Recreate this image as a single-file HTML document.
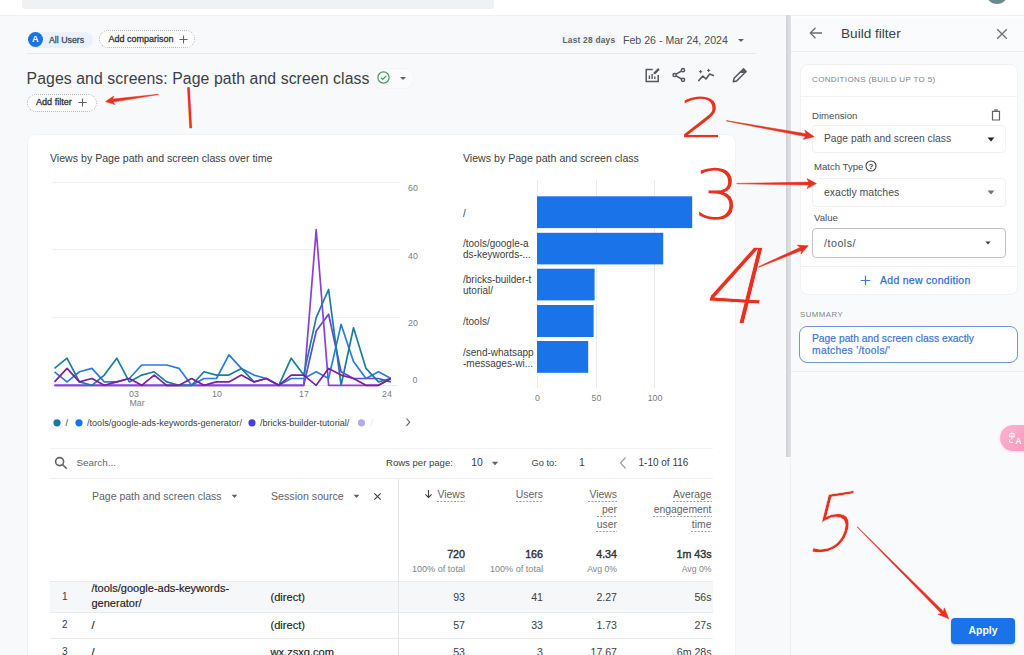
<!DOCTYPE html>
<html lang="en">
<head>
<meta charset="utf-8">
<title>Pages and screens - Build filter</title>
<style>
*{box-sizing:border-box;margin:0;padding:0}
html,body{width:1024px;height:655px;overflow:hidden;background:#f8f9fb}
body{font-family:"Liberation Sans",Arial,sans-serif;color:#3c4043;position:relative}
.abs{position:absolute}
.t{position:absolute;white-space:nowrap;line-height:1}
#root{position:absolute;left:0;top:0;width:1024px;height:655px;overflow:hidden;background:#f8f9fb}
/* top strip */
#topstrip{left:0;top:0;width:1024px;height:15.6px;background:#fff;border-bottom:1px solid #f0f2f4}
#searchbar{left:22px;top:-4px;width:472px;height:13px;background:#f0f1f2;border-radius:3px}
#avatar{left:986px;top:-18.4px;width:22px;height:22px;border-radius:50%;background:#6b898f}
/* chips */
#chipA{left:27.5px;top:31.6px;width:65px;height:16px;border-radius:8px;background:#ebf0fb}
#chipAcirc{left:27.8px;top:32.1px;width:15px;height:15px;border-radius:50%;background:#1a73e8;color:#fff;font-size:9.3px;font-weight:bold;text-align:center;line-height:15.4px}
#chipCmp{left:99.3px;top:30.3px;width:95.3px;height:17.8px;border-radius:9px;border:1px dotted #b4b8be;background:#fff}
#hr1{left:27px;top:53px;width:729px;height:1px;background:#e6e8eb}
#chipFilter{left:27.3px;top:94px;width:69.8px;height:17.6px;border-radius:9px;border:1px dotted #b4b8be;background:#fff}
/* card */
#card{left:27px;top:133.5px;width:709px;height:560px;background:#fff;border-radius:8px;border:1px solid #f1f3f5}
/* table */
.hline{position:absolute;height:1px;background:#e9ebed}
.num{position:absolute;white-space:nowrap;line-height:1;text-align:right}
/* right panel */
#scrollstrip{left:786px;top:15.3px;width:5px;height:442.2px;background:linear-gradient(to right,#cdcfd3,#d9dbde 45%,#dddfe2)}
#scrolltrack{left:790px;top:458px;width:1px;height:200px;background:#eceef0}
#panel{left:791px;top:16px;width:233px;height:639px;background:#f9fafc}
#panelhead{left:791px;top:15.5px;width:233px;height:36.5px;background:linear-gradient(#fff,#fafbfc 3px,#fafbfc);border-bottom:1px solid #eaecef}
#condcard{left:800px;top:64px;width:218px;height:230.5px;background:#fff;border-radius:8px;border:1px solid #f0f2f4}
.sel{position:absolute;left:812px;width:194px;background:#fff;border:1px solid #f0f1f3;border-radius:4px}
#valbox{left:811.6px;top:228px;width:194.6px;height:30px;background:#fff;border:1px solid #bfc3c8;border-radius:4px}
#sumbox{left:799px;top:326px;width:219px;height:37px;background:#fff;border:1px solid #6e96d8;border-radius:8px}
#apply{left:951px;top:618px;width:64px;height:26px;background:#1a73e8;border-radius:4px;box-shadow:0 1px 2px rgba(60,64,67,.3)}
#xl8{left:1000px;top:424.8px;width:40px;height:26px;border-radius:13px;background:linear-gradient(135deg,#fbb3cf,#f895bb);box-shadow:0 1px 3px rgba(240,130,170,.25)}
</style>
</head>
<body>
<div id="root">
<!-- top strip -->
<div class="abs" id="topstrip"></div>
<div class="abs" id="searchbar"></div>
<div class="abs" id="avatar"></div>

<!-- comparison chips -->
<div class="abs" id="chipA"></div>
<div class="abs" id="chipAcirc">A</div>
<div class="t" style="left:49px;top:35.6px;font-size:8.8px;color:#3c4a63;-webkit-text-stroke:.3px #3c4a63">All Users</div>
<div class="abs" id="chipCmp"></div>
<div class="t" style="left:108.5px;top:34.8px;font-size:9px;color:#303236;-webkit-text-stroke:.3px #303236">Add comparison</div>
<svg class="abs" style="left:178.3px;top:33.8px" width="11" height="11" viewBox="0 0 11 11"><path d="M5.5 1.5v8M1.5 5.5h8" stroke="#5f6368" stroke-width="1.1" fill="none"/></svg>

<!-- date range -->
<div class="abs" style="left:559.5px;top:34.5px;width:57.5px;height:11.5px;border-radius:2px;background:#f1f3f4"></div>
<div class="t" style="left:562.5px;top:36.3px;font-size:8.3px;font-weight:bold;color:#5f6368;letter-spacing:.25px">Last 28 days</div>
<div class="t" style="left:623px;top:34.8px;font-size:10.6px;color:#4a4d51">Feb 26 - Mar 24, 2024</div>
<svg class="abs" style="left:737px;top:38px" width="8" height="5" viewBox="0 0 8 5"><path d="M1 1h6L4 4z" fill="#5f6368"/></svg>
<div class="abs" id="hr1"></div>

<!-- title -->
<div class="t" id="title" style="left:26.5px;top:71.1px;font-size:15.8px;color:#3c4043;letter-spacing:.09px">Pages and screens: Page path and screen class</div>
<div class="abs" style="left:372px;top:67.5px;width:43px;height:21px;border-radius:10.5px;border:1px solid #f2f4f6;background:#fafbfc"></div>
<svg class="abs" style="left:376px;top:70px" width="15" height="15" viewBox="0 0 15 15"><circle cx="7.5" cy="7.5" r="5.6" fill="none" stroke="#3f9b5e" stroke-width="1.2"/><path d="M4.8 7.6l1.9 1.9 3.6-3.7" fill="none" stroke="#3f9b5e" stroke-width="1.2"/></svg>
<svg class="abs" style="left:399px;top:76px" width="8" height="5" viewBox="0 0 8 5"><path d="M1 1h6L4 4z" fill="#5f6368"/></svg>

<!-- title icons -->
<svg class="abs" style="left:644px;top:67px" width="17" height="17" viewBox="0 0 17 17" fill="none" stroke="#55595e" stroke-width="1.5"><path d="M14.2 8v6.4H2.2V2.6h6.6"/><path d="M5.4 12v-3.4M8.1 12V7M10.8 12V9.6" stroke-width="1.4"/><path d="M9.6 7.2l.3-1.9 4.2-4.2 1.6 1.6-4.2 4.2z" fill="#55595e" stroke="none"/></svg>
<svg class="abs" style="left:671px;top:67.3px" width="16" height="16" viewBox="0 0 16 16" fill="none" stroke="#55595e" stroke-width="1.5"><circle cx="12" cy="3.2" r="1.6"/><circle cx="3.6" cy="8" r="1.6"/><circle cx="12" cy="12.8" r="1.6"/><path d="M5 7.2l5.6-3.2M5 8.8l5.6 3.2"/></svg>
<svg class="abs" style="left:697px;top:68px" width="18" height="16" viewBox="0 0 18 16" fill="none" stroke="#55595e" stroke-width="1.6" stroke-linejoin="round" stroke-linecap="round"><path d="M1.8 12.6l4-4.6 3.2 3 3.6-5 3.8 1.4"/><path d="M3.6 2.4v2.6M2.3 3.7h2.6M11.6 1.2v2.4M10.4 2.4h2.4" stroke-width="1"/></svg>
<svg class="abs" style="left:731px;top:68px" width="16" height="16" viewBox="0 0 16 16" fill="none" stroke="#55595e" stroke-width="1.5" stroke-linejoin="round"><path d="M2.3 13.7l.8-3.4 7.4-7.4 2.6 2.6-7.4 7.4z"/><path d="M11.4 2l1.1-1.1 2.6 2.6L14 4.6z" fill="#55595e"/></svg>

<!-- add filter chip -->
<div class="abs" id="chipFilter"></div>
<div class="t" style="left:36px;top:98px;font-size:9.1px;color:#303236;-webkit-text-stroke:.3px #303236">Add filter</div>
<svg class="abs" style="left:77px;top:96.7px" width="11" height="11" viewBox="0 0 11 11"><path d="M5.5 1.4v8.2M1.4 5.5h8.2" stroke="#5f6368" stroke-width="1.1" fill="none"/></svg>

<!-- main card -->
<div class="abs" id="card"></div>
<div class="t" style="left:50px;top:153px;font-size:10.6px;color:#3c4043">Views by Page path and screen class over time</div>
<div class="t" style="left:463px;top:153px;font-size:10.6px;color:#3c4043">Views by Page path and screen class</div>

<!-- charts -->
<svg class="abs" style="left:0;top:0" width="790" height="450" viewBox="0 0 790 450" font-family="Liberation Sans, Arial, sans-serif">
 <g stroke="#eff0f2" stroke-width="1">
  <path d="M52 182.5H400M52 249.5H400M52 317.5H400"/>
 </g>
 <path d="M52 385.5H398" stroke="#e6e8eb" stroke-width="1"/>
 <g font-size="8.8" fill="#787d83">
  <text x="408" y="190.6">60</text><text x="408" y="258.6">40</text><text x="408" y="326.4">20</text><text x="412.5" y="383">0</text>
  <text x="134" y="396.6" text-anchor="middle">03</text><text x="137" y="405.6" text-anchor="middle">Mar</text>
  <text x="217" y="396.6" text-anchor="middle">10</text><text x="304" y="396.6" text-anchor="middle">17</text><text x="387" y="396.6" text-anchor="middle">24</text>
 </g>
<polyline points="54.5,385.3 67.0,385.3 79.4,385.3 91.9,385.3 104.3,385.3 116.8,385.3 129.3,385.3 141.7,385.3 154.2,385.3 166.6,385.3 179.1,385.3 191.6,385.3 204.0,385.3 216.5,385.3 228.9,385.3 241.4,385.3 253.9,385.3 266.3,385.3 278.8,385.3 291.2,385.3 303.7,385.3 316.2,331.1 328.6,314.2 341.1,371.8 353.5,378.5 366.0,378.5 378.5,378.5 390.9,381.9" fill="none" stroke="#5e4ad6" stroke-width="1.7" stroke-linejoin="round"/>
<polyline points="54.5,385.3 67.0,385.3 79.4,385.3 91.9,385.3 104.3,385.3 116.8,385.3 129.3,385.3 141.7,385.3 154.2,385.3 166.6,385.3 179.1,385.3 191.6,385.3 204.0,385.3 216.5,385.3 228.9,385.3 241.4,385.3 253.9,385.3 266.3,385.3 278.8,385.3 291.2,385.3 303.7,385.3 316.2,229.6 328.6,385.3 341.1,385.3 353.5,385.3 366.0,385.3 378.5,385.3 390.9,378.5" fill="none" stroke="#8b3fd3" stroke-width="1.7" stroke-linejoin="round"/>
<polyline points="54.5,371.8 67.0,381.9 79.4,371.8 91.9,368.4 104.3,381.9 116.8,381.9 129.3,378.5 141.7,365.0 154.2,365.0 166.6,365.0 179.1,368.4 191.6,385.3 204.0,378.5 216.5,378.5 228.9,354.8 241.4,368.4 253.9,375.1 266.3,378.5 278.8,385.3 291.2,378.5 303.7,378.5 316.2,371.8 328.6,378.5 341.1,324.4 353.5,361.6 366.0,378.5 378.5,371.8 390.9,378.5" fill="none" stroke="#2a7be0" stroke-width="1.7" stroke-linejoin="round"/>
<polyline points="54.5,368.4 67.0,358.2 79.4,381.9 91.9,385.3 104.3,375.1 116.8,358.2 129.3,381.9 141.7,375.1 154.2,371.8 166.6,381.9 179.1,385.3 191.6,385.3 204.0,371.8 216.5,375.1 228.9,375.1 241.4,368.4 253.9,381.9 266.3,378.5 278.8,385.3 291.2,358.2 303.7,375.1 316.2,317.6 328.6,289.5 341.1,385.3 353.5,327.8 366.0,368.4 378.5,381.9 390.9,378.5" fill="none" stroke="#1c7c9e" stroke-width="1.7" stroke-linejoin="round"/>
<polyline points="54.5,381.9 67.0,368.4 79.4,381.9 91.9,378.5 104.3,385.3 116.8,381.9 129.3,378.5 141.7,385.3 154.2,375.1 166.6,385.3 179.1,385.3 191.6,378.5 204.0,385.3 216.5,381.9 228.9,381.9 241.4,375.1 253.9,381.9 266.3,378.5 278.8,385.3 291.2,375.1 303.7,375.1 316.2,385.3 328.6,368.4 341.1,375.1 353.5,378.5 366.0,385.3 378.5,385.3 390.9,378.5" fill="none" stroke="#7b1f9e" stroke-width="1.7" stroke-linejoin="round"/>

 <!-- legend -->
 <circle cx="57" cy="422.8" r="3.6" fill="#1b76a8"/><circle cx="79" cy="422.8" r="3.6" fill="#1a73e8"/><circle cx="252" cy="422.8" r="3.6" fill="#4a3fd8"/><circle cx="361.5" cy="422.8" r="3.6" fill="#b7abe3"/>
 <g font-size="9.08" fill="#3c4043">
  <text x="65.5" y="426">/</text><text x="87" y="426">/tools/google-ads-keywords-generator/</text><text x="260" y="426">/bricks-builder-tutorial/</text>
 </g>
 <text x="370.5" y="426" font-size="9.3" fill="#e6e6ea">/</text>
 <path d="M406.5 418.5l3.2 3.7-3.2 3.7" fill="none" stroke="#5f6368" stroke-width="1.1"/>

 <!-- bar chart -->
 <g stroke="#eaecee" stroke-width="1"><path d="M537.5 180V388M596.5 180V388M654.5 180V388"/></g>
 <g fill="#1a73e8">
  <rect x="537" y="196.3" width="155.2" height="31.8"/>
  <rect x="537" y="232.8" width="126.2" height="31.6"/>
  <rect x="537" y="268.7" width="57.6" height="31.7"/>
  <rect x="537" y="305" width="56.6" height="32"/>
  <rect x="537" y="341" width="51.2" height="31.8"/>
 </g>
 <g font-size="10" fill="#3c4043">
  <text x="463" y="216.8">/</text>
  <text x="463" y="247">/tools/google-a</text><text x="463" y="257.6">ds-keywords-...</text>
  <text x="463" y="283.3">/bricks-builder-t</text><text x="463" y="294">utorial/</text>
  <text x="463" y="324.8">/tools/</text>
  <text x="463" y="356.3">/send-whatsapp</text><text x="463" y="367">-messages-wi...</text>
 </g>
 <g font-size="8.8" fill="#787d83" text-anchor="middle">
  <text x="537.5" y="401">0</text><text x="596.5" y="401">50</text><text x="655" y="401">100</text>
 </g>
</svg>

<!-- table -->
<div class="hline" style="left:50px;top:447.5px;width:663px;background:#f2f3f5"></div>
<svg class="abs" style="left:54px;top:456px" width="14" height="14" viewBox="0 0 14 14" fill="none" stroke="#5f6368" stroke-width="1.6"><circle cx="5.6" cy="5.6" r="4"/><path d="M8.6 8.6l4.2 4.2"/></svg>
<div class="t" style="left:76.5px;top:458.2px;font-size:9.9px;color:#5f6368">Search...</div>
<div class="t" style="left:386px;top:458.3px;font-size:9.55px;color:#3c4043">Rows per page:</div>
<div class="t" style="left:471.3px;top:458.2px;font-size:10.4px;color:#3c4043">10</div>
<svg class="abs" style="left:491px;top:461px" width="8" height="5" viewBox="0 0 8 5"><path d="M.8.8h6.4L4 4.2z" fill="#5f6368"/></svg>
<div class="t" style="left:531.5px;top:458.5px;font-size:9.3px;color:#3c4043">Go to:</div>
<div class="t" style="left:579px;top:458.2px;font-size:10.4px;color:#3c4043">1</div>
<svg class="abs" style="left:618px;top:456px" width="10" height="14" viewBox="0 0 10 14"><path d="M7.5 1.5L2.5 7l5 5.5" fill="none" stroke="#9aa0a6" stroke-width="1.2"/></svg>
<div class="t" style="left:638.5px;top:458.3px;font-size:10px;color:#3c4043">1-10 of 116</div>
<div class="hline" style="left:50px;top:477.5px;width:663px;background:#eef0f2"></div>

<!-- header -->
<div class="t" style="left:92px;top:491px;font-size:10.5px;color:#5f6368">Page path and screen class</div>
<svg class="abs" style="left:231px;top:494px" width="7" height="5" viewBox="0 0 7 5"><path d="M.6.8h5.8L3.5 4z" fill="#5f6368"/></svg>
<div class="t" style="left:271px;top:491.2px;font-size:10.65px;color:#5f6368">Session source</div>
<svg class="abs" style="left:353px;top:494px" width="7" height="5" viewBox="0 0 7 5"><path d="M.6.8h5.8L3.5 4z" fill="#5f6368"/></svg>
<svg class="abs" style="left:373px;top:491.5px" width="9" height="9" viewBox="0 0 9 9"><path d="M1.3 1.3l6.4 6.4M7.7 1.3L1.3 7.7" stroke="#3c4043" stroke-width="1.1"/></svg>
<div class="abs" style="left:398px;top:479px;width:1px;height:180px;background:#e4e6e9"></div>

<svg class="abs" style="left:424px;top:489px" width="9" height="10" viewBox="0 0 9 10"><path d="M4.5 1v7.2M1.4 5.4l3.1 3.1 3.1-3.1" fill="none" stroke="#3c4043" stroke-width="1.1"/></svg>
<div class="num hd" style="right:559px;top:489.5px;font-size:10.4px;color:#5f6368">Views</div>
<div class="num hd" style="right:481px;top:489.5px;font-size:10.4px;color:#5f6368">Users</div>
<div class="num hd" style="right:407px;top:489.5px;font-size:10.4px;color:#5f6368;line-height:15px;margin-top:-2.5px">Views<br>per<br>user</div>
<div class="num hd" style="right:312.5px;top:489.5px;font-size:10.4px;color:#5f6368;line-height:15px;margin-top:-2.5px">Average<br>engagement<br>time</div>
<svg class="abs" style="left:400px;top:480px" width="320" height="60" viewBox="400 480 320 60"><g stroke="#9aa0a6" stroke-width="1" stroke-dasharray="2 1.4" fill="none"><path d="M437 501.5H465M516 501.5H543M588 501.5H617M597 516.5H617M596 531.5H617M673 501.5H712M653 516.5H712M691 531.5H712"/></g></svg>

<div class="num" style="right:559px;top:549px;font-size:10.7px;color:#303336;-webkit-text-stroke:.4px #303336">720</div>
<div class="num" style="right:481px;top:549px;font-size:10.7px;color:#303336;-webkit-text-stroke:.4px #303336">166</div>
<div class="num" style="right:407px;top:549px;font-size:10.7px;color:#303336;-webkit-text-stroke:.4px #303336">4.34</div>
<div class="num" style="right:312.5px;top:549px;font-size:10.7px;color:#303336;-webkit-text-stroke:.4px #303336">1m 43s</div>
<div class="num" style="right:559px;top:564.8px;font-size:9.1px;color:#80868b">100% of total</div>
<div class="num" style="right:481px;top:564.8px;font-size:9.1px;color:#80868b">100% of total</div>
<div class="num" style="right:407px;top:565px;font-size:8.7px;color:#80868b">Avg 0%</div>
<div class="num" style="right:312.5px;top:565px;font-size:8.7px;color:#80868b">Avg 0%</div>

<!-- rows -->
<div class="abs" style="left:50px;top:581px;width:663px;height:31px;background:#f6f7f8"></div>
<div class="hline" style="left:50px;top:581px;width:663px"></div>
<div class="hline" style="left:50px;top:611.5px;width:663px"></div>
<div class="hline" style="left:50px;top:638px;width:663px"></div>
<div class="abs" style="left:398px;top:581px;width:1px;height:80px;background:#e4e6e9"></div>

<div class="t" style="left:62px;top:591.5px;font-size:10px;color:#3c4043">1</div>
<div class="t" style="left:91.5px;top:581.3px;font-size:11px;color:#202124;line-height:14.8px;-webkit-text-stroke:.15px #202124">/tools/google-ads-keywords-<br>generator/</div>
<div class="t" style="left:270.5px;top:591.5px;font-size:11.1px;color:#202124;-webkit-text-stroke:.15px #202124">(direct)</div>
<div class="num" style="right:559px;top:592px;font-size:10.6px;color:#3c4043">93</div>
<div class="num" style="right:481px;top:592px;font-size:10.6px;color:#3c4043">41</div>
<div class="num" style="right:407px;top:592px;font-size:10.6px;color:#3c4043">2.27</div>
<div class="num" style="right:312.5px;top:592px;font-size:10.6px;color:#3c4043">56s</div>

<div class="t" style="left:62px;top:619.5px;font-size:10px;color:#3c4043">2</div>
<div class="t" style="left:91.5px;top:620px;font-size:11px;color:#202124;-webkit-text-stroke:.15px #202124">/</div>
<div class="t" style="left:270.5px;top:620px;font-size:11.1px;color:#202124;-webkit-text-stroke:.15px #202124">(direct)</div>
<div class="num" style="right:559px;top:620.2px;font-size:10.6px;color:#3c4043">57</div>
<div class="num" style="right:481px;top:620.2px;font-size:10.6px;color:#3c4043">33</div>
<div class="num" style="right:407px;top:620.2px;font-size:10.6px;color:#3c4043">1.73</div>
<div class="num" style="right:312.5px;top:620.2px;font-size:10.6px;color:#3c4043">27s</div>

<div class="t" style="left:62px;top:646.5px;font-size:10px;color:#3c4043">3</div>
<div class="t" style="left:91.5px;top:646.5px;font-size:11px;color:#202124;-webkit-text-stroke:.15px #202124">/</div>
<div class="t" style="left:270.5px;top:646.5px;font-size:11.1px;color:#202124;-webkit-text-stroke:.15px #202124">wx.zsxq.com</div>
<div class="num" style="right:559px;top:646.5px;font-size:10.6px;color:#3c4043">53</div>
<div class="num" style="right:481px;top:646.5px;font-size:10.6px;color:#3c4043">3</div>
<div class="num" style="right:407px;top:646.5px;font-size:10.6px;color:#3c4043">17.67</div>
<div class="num" style="right:312.5px;top:646.5px;font-size:10.6px;color:#3c4043">6m 28s</div>

<!-- right panel -->
<div class="abs" id="panel"></div>
<div class="abs" id="scrollstrip"></div><div class="abs" id="scrolltrack"></div>
<div class="abs" id="panelhead"></div>
<svg class="abs" style="left:808px;top:26px" width="16" height="14" viewBox="0 0 16 14" fill="none" stroke="#696e73" stroke-width="1.3"><path d="M14 7H2.5M7.5 1.8L2.3 7l5.2 5.2"/></svg>
<div class="t" style="left:841px;top:26.7px;font-size:13.6px;color:#3c4043">Build filter</div>
<svg class="abs" style="left:996px;top:27.5px" width="12" height="12" viewBox="0 0 12 12"><path d="M1.2 1.2l9.6 9.6M10.8 1.2l-9.6 9.6" stroke="#696e73" stroke-width="1.3"/></svg>

<div class="abs" id="condcard"></div>
<div class="t" style="left:812px;top:76.2px;font-size:8px;color:#80868b;letter-spacing:.36px">CONDITIONS (BUILD UP TO 5)</div>
<div class="hline" style="left:801px;top:96px;width:216px;background:#f1f3f4"></div>
<div class="t" style="left:812px;top:110.5px;font-size:9.6px;color:#4a4d51">Dimension</div>
<svg class="abs" style="left:991px;top:109px" width="10" height="12" viewBox="0 0 10 12" fill="none" stroke="#5f6368" stroke-width="1.2"><path d="M1.5 2.4h7v8.6h-7z"/><path d="M3.2 1h3.6" stroke-width="1.4"/></svg>
<div class="sel" style="top:124.5px;height:28.5px"></div>
<div class="t" style="left:824px;top:133.8px;font-size:10.3px;color:#4a4d51">Page path and screen class</div>
<svg class="abs" style="left:987px;top:137px" width="8" height="5" viewBox="0 0 8 5"><path d="M.6.6h6.8L4 4.4z" fill="#202124"/></svg>

<div class="t" style="left:814px;top:161.5px;font-size:9.6px;color:#4a4d51">Match Type</div>
<svg class="abs" style="left:865.2px;top:160.3px" width="12" height="12" viewBox="0 0 11 11"><circle cx="5.5" cy="5.5" r="4.6" fill="none" stroke="#3c4043" stroke-width="1"/><text x="5.5" y="8.3" font-size="7.4" font-weight="bold" text-anchor="middle" fill="#3c4043" font-family="Liberation Sans, Arial, sans-serif">?</text></svg>
<div class="sel" style="top:177.5px;height:29.5px"></div>
<div class="t" style="left:824px;top:186.6px;font-size:10.5px;color:#4a4d51">exactly matches</div>
<svg class="abs" style="left:987px;top:190px" width="8" height="5" viewBox="0 0 8 5"><path d="M.6.6h6.8L4 4.4z" fill="#70757a"/></svg>

<div class="t" style="left:814px;top:213px;font-size:9.6px;color:#4a4d51">Value</div>
<div class="abs" id="valbox"></div>
<div class="t" style="left:824px;top:237.8px;font-size:10.6px;letter-spacing:.55px;color:#4a4d51">/tools/</div>
<svg class="abs" style="left:985px;top:241px" width="6" height="4" viewBox="0 0 6 4"><path d="M.4.4h5.2L3 3.6z" fill="#3c4043"/></svg>
<div class="hline" style="left:801px;top:266px;width:216px;background:#eef0f2"></div>
<svg class="abs" style="left:859.5px;top:275px" width="11" height="11" viewBox="0 0 11 11"><path d="M5.5 .8v9.4M.8 5.5h9.4" stroke="#3b78e7" stroke-width="1.2"/></svg>
<div class="t" style="left:880px;top:275px;font-size:10.5px;color:#356ed8;letter-spacing:.28px;-webkit-text-stroke:.25px #356ed8">Add new condition</div>

<div class="t" style="left:800px;top:311.3px;font-size:7.8px;color:#80868b;letter-spacing:.5px">SUMMARY</div>
<div class="abs" id="sumbox"></div>
<div class="t" style="left:812px;top:333.2px;font-size:10.3px;color:#3c74d6;line-height:12.3px;-webkit-text-stroke:.2px #3c74d6">Page path and screen class exactly<br><span style="letter-spacing:.3px">matches '/tools/'</span></div>
<div class="hline" style="left:791px;top:370.7px;width:233px;background:#eceef0"></div>

<div class="abs" id="xl8"></div>
<svg class="abs" style="left:1004px;top:428px" width="20" height="20" viewBox="1004 428 20 20" fill="#fff" font-family="Liberation Sans, Noto Sans CJK SC, sans-serif" opacity=".92"><text x="1008.6" y="438" font-size="6.8" font-weight="bold">中</text><text x="1015.6" y="443.6" font-size="8.4" font-weight="bold">A</text><path d="M1009.4 439.4v1.6q0 1.4 1.4 1.4h2.2" fill="none" stroke="#fff" stroke-width="1"/></svg>

<div class="abs" id="apply"></div>
<div class="t" style="left:951px;top:625.5px;width:64px;text-align:center;font-size:10.4px;font-weight:bold;color:#fff">Apply</div>

<!-- red hand-drawn annotations -->
<svg class="abs" style="left:0;top:0" width="1024" height="655" viewBox="0 0 1024 655" fill="#e8301f" stroke="#e8301f" stroke-width=".5" stroke-linejoin="round">
<path d="M158.5 94.2 L112.6 99.1 L113.8 96.1 L105.5 101.6 L115.0 104.6 L113.0 102.1 L158.5 94.6z"/>
<path d="M726.5 121.0 L805.5 136.6 L803.0 139.5 L814.2 136.7 L804.7 130.1 L806.0 133.7 L726.5 120.6z"/>
<path d="M736.8 183.8 L808.7 185.1 L807.0 188.6 L816.5 183.6 L807.0 178.6 L808.7 182.1 L736.8 183.4z"/>
<path d="M755.1 268.8 L801.4 250.5 L801.0 254.1 L808.3 245.7 L797.2 245.1 L800.1 247.4 L754.9 268.4z"/>
<path d="M857.1 527.0 L941.4 613.4 L937.8 614.3 L948.8 618.8 L944.3 607.8 L943.4 611.4 L857.3 526.8z"/>
</svg>
<svg class="abs" id="digits" style="left:0;top:0" width="1024" height="655" viewBox="0 0 1024 655" fill="#e8301f" stroke="#fafbfc" font-family="DejaVu Sans, Liberation Sans, sans-serif" font-weight="200">
<text transform="matrix(0.7 0 0.056 1 186.26 119.40)" font-size="44" font-family="Liberation Sans, sans-serif" font-weight="400" stroke="none">|</text>
<text transform="matrix(0.7301 0.0000 0.0000 0.5560 678.96 136.75)" font-size="100" stroke-width="0.02">2</text>
<text transform="matrix(0.7449 0.0298 0.0000 0.6889 693.54 218.12)" font-size="100" stroke-width="0.01">3</text>
<text transform="matrix(0.9890 0.0593 -0.2592 1.0398 699.15 320.80)" font-size="100" stroke-width="0.79">4</text>
<text transform="matrix(0.7387 -0.1182 -0.1984 0.7958 804.69 554.01)" font-size="100" stroke-width="0.65">5</text>
</svg>
</div>
</body>
</html>
